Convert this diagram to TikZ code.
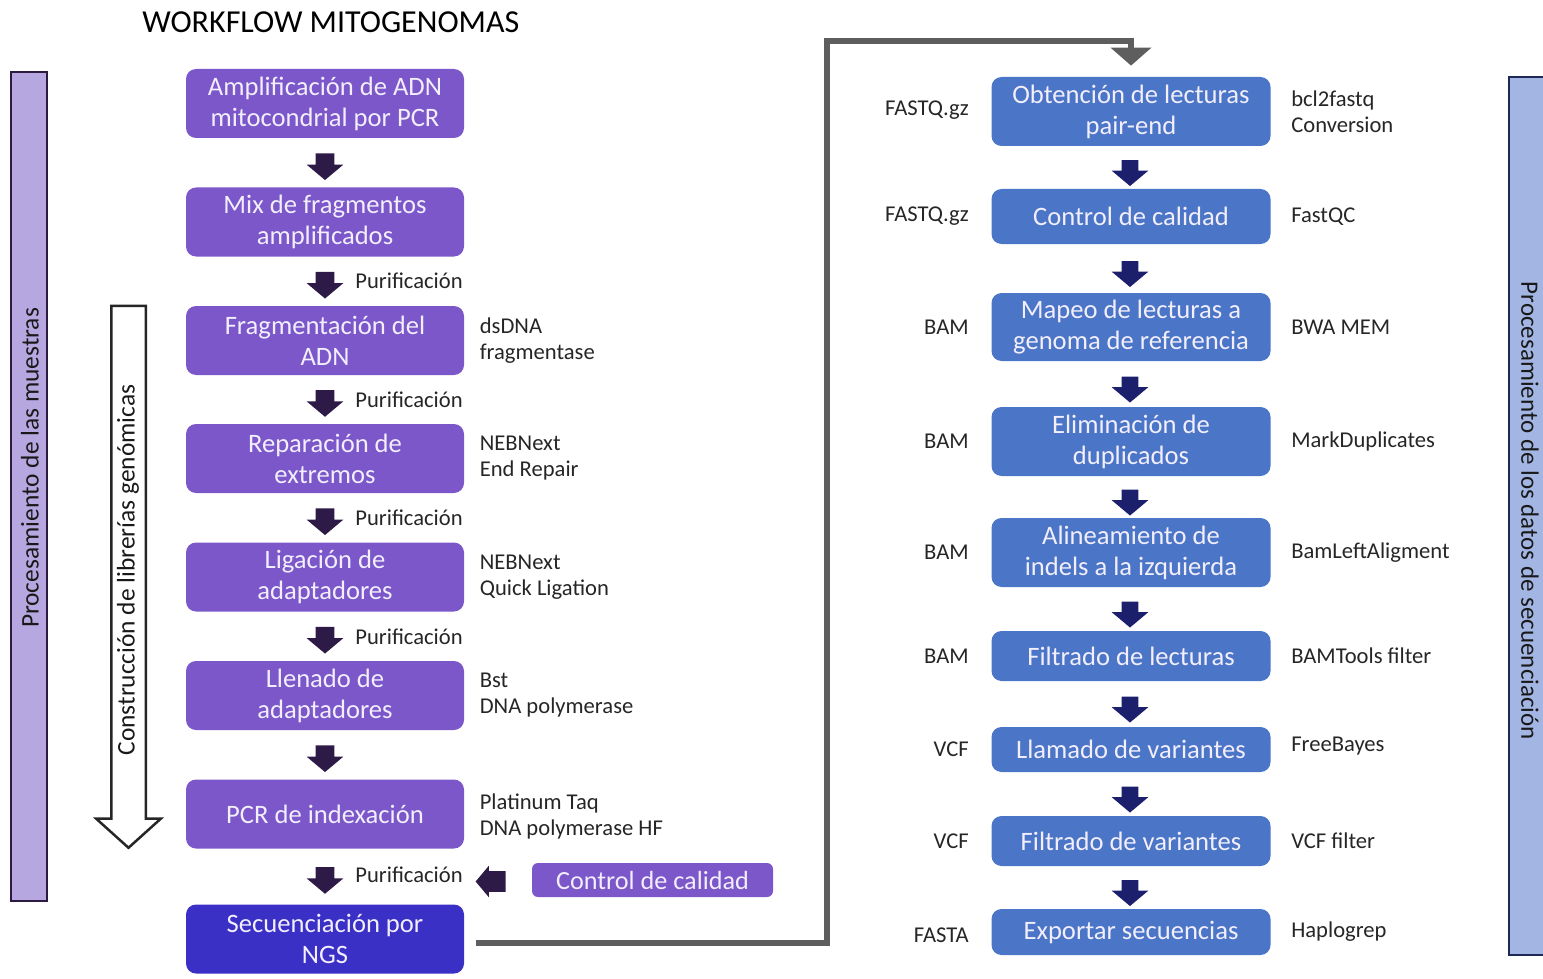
\documentclass[tikz,border=0pt]{standalone}
\usepackage{fontspec}
\setmainfont{Carlito}
\usetikzlibrary{shapes.arrows,arrows.meta,calc}
\definecolor{stepviolet}{HTML}{7B57CA}
\definecolor{seqblue}{HTML}{3B30C6}
\definecolor{stepblue}{HTML}{4B75C6}
\definecolor{boxtext}{HTML}{F2EEFC}
\definecolor{arrowviolet}{HTML}{2E1A47}
\definecolor{arrownavy}{HTML}{1B1F6C}
\definecolor{barviolet}{HTML}{B7A7E0}
\definecolor{barvioletline}{HTML}{2C1A40}
\definecolor{barblue}{HTML}{A3B6E3}
\definecolor{barblueline}{HTML}{1E2A55}
\definecolor{linkgray}{HTML}{5E5E5E}
\begin{document}
\begin{tikzpicture}[x=0.5pt,y=-0.5pt,
  pbox/.style={rectangle, rounded corners=5pt, fill=stepviolet, text=boxtext,
    font=\fontsize{13.3}{15.5}\selectfont, align=center,
    minimum width=139pt, minimum height=34.5pt, inner sep=0pt},
  bbox/.style={pbox, fill=stepblue, minimum width=139.5pt},
  darrow/.style={single arrow, rotate=-90, fill=arrowviolet, minimum height=13pt,
    minimum width=18pt, inner sep=4.5pt, single arrow head extend=4.5pt,
    single arrow tip angle=100},
  narrow/.style={darrow, fill=arrownavy, inner sep=4pt, single arrow head extend=5pt},
  lbl/.style={font=\fontsize{11.3}{13}\selectfont, inner sep=0pt, align=left, text=black!85},
  sidetxt/.style={font=\fontsize{12.7}{14}\selectfont, inner sep=0pt, text=black!90},
  gline/.style={draw=linkgray, line width=3pt, -{Triangle[width=20pt,length=9pt]}}
]
\useasboundingbox (0,0) rectangle (1543,979);
\clip (0,0) rectangle (1543,979);

% title
\node[font=\fontsize{16}{19}\selectfont, anchor=base west, inner sep=0pt] (title) at (142,33) {WORKFLOW MITOGENOMAS};

% side bars
\draw[fill=barviolet, draw=barvioletline, line width=1.25pt] (11,72) rectangle (47,901);
\node[sidetxt, rotate=90] (lbartxt) at (30,468) {Procesamiento de las muestras};
\draw[fill=barblue, draw=barblueline, line width=1.25pt] (1509,77) rectangle (1560,955);
\node[sidetxt, font=\fontsize{12.5}{14}\selectfont, rotate=-90] (rbartxt) at (1530,511) {Procesamiento de los datos de secuenciación};

% library construction arrow
\node[single arrow, rotate=-90, draw=black!85, fill=white, line width=1.25pt,
  minimum height=271pt, minimum width=31pt, inner sep=8pt,
  single arrow head extend=7.5pt, single arrow tip angle=96] (lib) at (128.5,569) {};
\node[sidetxt, rotate=90] (libtxt) at (128,570) {Construcción de librerías genómicas};

% sample processing steps
\node[pbox] (s1) at (325,103.5) {Amplificación de ADN\\mitocondrial por PCR};
\node[pbox] (s2) at (325,222) {Mix de fragmentos\\amplificados};
\node[pbox] (s3) at (325,340.5) {Fragmentación del\\ADN};
\node[pbox] (s4) at (325,458.5) {Reparación de\\extremos};
\node[pbox] (s5) at (325,577) {Ligación de\\adaptadores};
\node[pbox] (s6) at (325,695.5) {Llenado de\\adaptadores};
\node[pbox] (s7) at (325,814) {PCR de indexación};
\node[pbox, fill=seqblue] (s8) at (325,939) {Secuenciación por\\NGS};

\foreach \a/\b in {s1/s2,s2/s3,s3/s4,s4/s5,s5/s6,s6/s7,s7/s8}
  \node[darrow] (arr-\a) at ($(\a.south)!0.5!(\b.north)$) {};

\node[lbl, anchor=west] (pu2) at (355,281) {Purificación};
\node[lbl, anchor=west] (pu3) at (355,399.5) {Purificación};
\node[lbl, anchor=west] (pu4) at (355,518) {Purificación};
\node[lbl, anchor=west] (pu5) at (355,636.5) {Purificación};
\node[lbl, anchor=west] (pu7) at (355,875) {Purificación};

\node[lbl, anchor=west] (k3) at ([xshift=7.5pt]s3.east) {dsDNA\\fragmentase};
\node[lbl, anchor=west] (k4) at ([xshift=7.5pt]s4.east) {NEBNext\\End Repair};
\node[lbl, anchor=west] (k5) at ([xshift=7.5pt]s5.east) {NEBNext\\Quick Ligation};
\node[lbl, anchor=west] (k6) at ([xshift=7.5pt]s6.east) {Bst\\DNA polymerase};
\node[lbl, anchor=west] (k7) at ([xshift=7.5pt,yshift=-1pt]s7.east) {Platinum Taq\\DNA polymerase HF};

% quality control before sequencing
\node[pbox, minimum width=120.5pt, minimum height=17pt, rounded corners=3pt,
  font=\fontsize{13.1}{15}\selectfont] (qc) at (652.5,880) {Control de calidad};
\node[single arrow, rotate=180, fill=arrowviolet, minimum height=15pt,
  minimum width=15.5pt, inner sep=5pt, single arrow head extend=2.75pt,
  single arrow tip angle=100] (qcarr) at (495,881.5) {};

% data processing steps
\node[bbox, minimum height=34.5pt] (r1) at (1131,111.5) {Obtención de lecturas\\pair-end};
\node[bbox, minimum height=27.5pt] (r2) at (1131,216.5) {Control de calidad};
\node[bbox, minimum height=34pt]   (r3) at (1131,327) {Mapeo de lecturas a\\genoma de referencia};
\node[bbox, minimum height=34.5pt] (r4) at (1131,441.5) {Eliminación de\\duplicados};
\node[bbox, minimum height=34.5pt] (r5) at (1131,552.5) {Alineamiento de\\indels a la izquierda};
\node[bbox, minimum height=25pt]   (r6) at (1131,656) {Filtrado de lecturas};
\node[bbox, minimum height=22.5pt] (r7) at (1131,749.5) {Llamado de variantes};
\node[bbox, minimum height=25pt]   (r8) at (1131,841) {Filtrado de variantes};
\node[bbox, minimum height=23pt]   (r9) at (1131,932) {Exportar secuencias};

\foreach \a/\b in {r1/r2,r2/r3,r3/r4,r4/r5,r5/r6,r6/r7,r7/r8,r8/r9}
  \node[narrow] (arr-\a) at ($(\a.south)!0.5!(\b.north)+(-1,2)$) {};

% file formats
\node[lbl, anchor=east] (f1) at ([xshift=-11pt,yshift=0.5pt]r1.west) {FASTQ.gz};
\node[lbl, anchor=east] (f2) at ([xshift=-11pt]r2.west) {FASTQ.gz};
\node[lbl, anchor=east] (f3) at ([xshift=-11pt]r3.west) {BAM};
\node[lbl, anchor=east] (f4) at ([xshift=-11pt]r4.west) {BAM};
\node[lbl, anchor=east] (f5) at ([xshift=-11pt]r5.west) {BAM};
\node[lbl, anchor=east] (f6) at ([xshift=-11pt]r6.west) {BAM};
\node[lbl, anchor=east] (f7) at ([xshift=-11pt]r7.west) {VCF};
\node[lbl, anchor=east] (f8) at ([xshift=-11pt]r8.west) {VCF};
\node[lbl, anchor=east] (f9) at ([xshift=-11pt,yshift=-1.5pt]r9.west) {FASTA};

% tools
\node[lbl, anchor=west] (t1) at ([xshift=10pt]r1.east) {bcl2fastq\\Conversion};
\node[lbl, anchor=west] (t2) at ([xshift=10pt]r2.east) {FastQC};
\node[lbl, anchor=west] (t3) at ([xshift=10pt]r3.east) {BWA MEM};
\node[lbl, anchor=west] (t4) at ([xshift=10pt]r4.east) {MarkDuplicates};
\node[lbl, anchor=west] (t5) at ([xshift=10pt]r5.east) {BamLeftAligment};
\node[lbl, anchor=west] (t6) at ([xshift=10pt]r6.east) {BAMTools filter};
\node[lbl, anchor=west] (t7) at ([xshift=10pt,yshift=1.5pt]r7.east) {FreeBayes};
\node[lbl, anchor=west] (t8) at ([xshift=10pt]r8.east) {VCF filter};
\node[lbl, anchor=west] (t9) at ([xshift=10pt]r9.east) {Haplogrep};

% sequencing output feeds the data pipeline
\draw[gline] ([xshift=6pt,yshift=-2pt]s8.east) -| (827,41) -| ([yshift=5.5pt]r1.north);
\end{tikzpicture}
\end{document}
